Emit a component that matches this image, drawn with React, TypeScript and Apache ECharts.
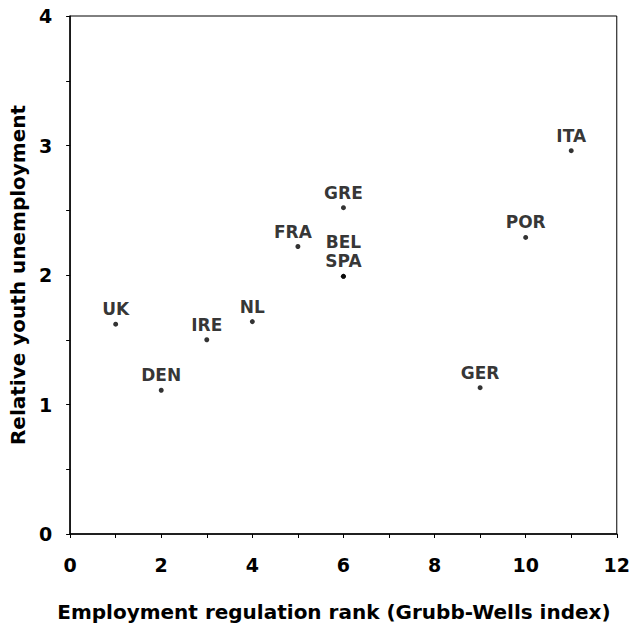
import React, { useEffect, useRef } from "react";
import * as echarts from "echarts";

const countries = ["UK", "DEN", "IRE", "NL", "FRA", "GRE", "BEL", "SPA", "GER", "POR", "ITA"];
const regulationRank = [1, 2, 3, 4, 5, 6, 6, 6, 9, 10, 11];
const youthUnemployment = [1.62, 1.11, 1.5, 1.64, 2.22, 2.52, 1.99, 1.99, 1.13, 2.29, 2.96];
const xTicks = [0, 2, 4, 6, 8, 10, 12];
const yTicks = [0, 1, 2, 3, 4];

export default function App() {
  const ref = useRef<HTMLDivElement>(null);
  useEffect(() => {
    if (!ref.current) return;
    const chart = echarts.init(ref.current, null, { renderer: "svg" });
    const data = countries.map((c, i) => {
      const item: any = { name: c, value: [regulationRank[i], youthUnemployment[i]] };
      if (c === "BEL") item.label = { offset: [0, -19] };
      if (c === "FRA") item.label = { offset: [-5, 0] };
      return item;
    });
    const font = "'DejaVu Sans', Verdana, sans-serif";
    chart.setOption({
      animation: false,
      backgroundColor: "#fff",
      grid: { left: 66, right: 11, top: 16, bottom: 90, show: true, borderColor: "#000", borderWidth: 1, backgroundColor: "transparent" },
      xAxis: {
        type: "value",
        min: xTicks[0],
        max: xTicks[xTicks.length - 1],
        interval: 2,
        name: "Employment regulation rank (Grubb-Wells index)",
        nameLocation: "middle",
        nameGap: 68,
        nameTextStyle: { fontFamily: font, fontSize: 20, fontWeight: "bold", color: "#000", padding: [0, 19, 0, 0] },
        axisLine: { show: true, onZero: false, lineStyle: { color: "#000", width: 1.5 } },
        axisTick: { show: true, length: 4, inside: false, lineStyle: { color: "#000" } },
        minorTick: { show: true, splitNumber: 2, length: 4, lineStyle: { color: "#000" } },
        splitLine: { show: false },
        axisLabel: { fontFamily: font, fontSize: 19, fontWeight: "bold", color: "#000", margin: 21 },
      },
      yAxis: {
        type: "value",
        min: yTicks[0],
        max: yTicks[yTicks.length - 1],
        interval: 1,
        name: "Relative youth unemployment",
        nameLocation: "middle",
        nameGap: 42,
        nameTextStyle: { fontFamily: font, fontSize: 20, fontWeight: "bold", color: "#000" },
        axisLine: { show: true, onZero: false, lineStyle: { color: "#000", width: 1.5 } },
        axisTick: { show: true, length: 4, inside: false, lineStyle: { color: "#000" } },
        minorTick: { show: true, splitNumber: 2, length: 4, lineStyle: { color: "#000" } },
        splitLine: { show: false },
        axisLabel: { fontFamily: font, fontSize: 19, fontWeight: "bold", color: "#000", margin: 18 },
      },
      series: [
        {
          type: "scatter",
          symbol: "circle",
          symbolSize: 5,
          itemStyle: { color: "#000" },
          data,
          label: {
            show: true,
            position: "top",
            distance: 4,
            formatter: (p: any) => p.name,
            fontFamily: font,
            fontSize: 17,
            fontWeight: "bold",
            color: "#000",
            textBorderWidth: 0,
          },
        },
      ],
    });
    return () => chart.dispose();
  }, []);
  return <div ref={ref} style={{ position: "absolute", left: 0, top: 0, width: 633, height: 627 }} />;
}
